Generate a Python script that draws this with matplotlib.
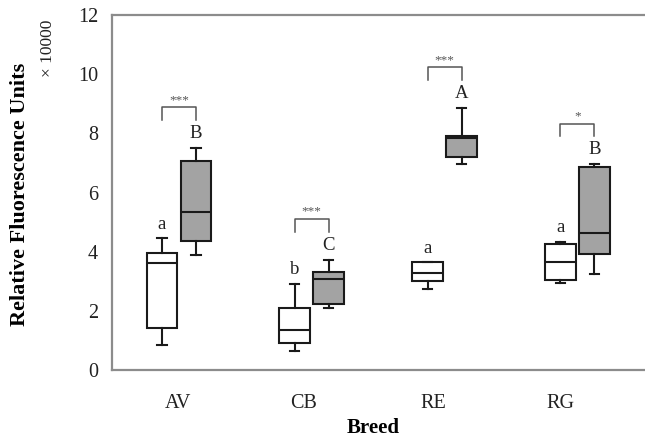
import numpy as np
import matplotlib.pyplot as plt

plt.rcParams['font.family'] = ['Liberation Serif', 'DejaVu Serif']

breeds = ['AV', 'CB', 'RE', 'RG']

# five-number summaries (x 10000 RFU)
white_lo = [0.87, 0.65, 2.74, 2.95]
white_q1 = [1.43, 0.93, 3.01, 3.07]
white_med = [3.63, 1.35, 3.29, 3.66]
white_q3 = [3.96, 2.11, 3.65, 4.26]
white_hi = [4.46, 2.93, 3.65, 4.35]

gray_lo = [3.90, 2.11, 6.98, 3.24]
gray_q1 = [4.38, 2.23, 7.21, 3.94]
gray_med = [5.35, 3.10, 7.86, 4.65]
gray_q3 = [7.06, 3.34, 7.93, 6.88]
gray_hi = [7.51, 3.74, 8.86, 6.96]

white_letters = ['a', 'b', 'a', 'a']
gray_letters = ['B', 'C', 'A', 'B']
signif = ['***', '***', '***', '*']


def make_stats(lo, q1, med, q3, hi):
    stats = []
    for i in range(len(lo)):
        stats.append(dict(whislo=lo[i], q1=q1[i], med=med[i], q3=q3[i],
                          whishi=hi[i], fliers=[]))
    return stats


fig = plt.figure(figsize=(6.45, 4.41), dpi=100)
ax = fig.add_axes([0.1736, 0.16, 0.8264, 0.806])

pos = np.arange(1, len(breeds) + 1)
off = 0.128
w = 0.231

common = dict(widths=w, patch_artist=True, showfliers=False, capwidths=0.07,
              whiskerprops=dict(color='#1a1a1a', lw=1.5),
              capprops=dict(color='#1a1a1a', lw=1.5),
              medianprops=dict(color='#1a1a1a', lw=1.5))

ax.bxp(make_stats(white_lo, white_q1, white_med, white_q3, white_hi),
       positions=pos - off,
       boxprops=dict(facecolor='white', edgecolor='#1a1a1a', lw=1.5),
       **common)
ax.bxp(make_stats(gray_lo, gray_q1, gray_med, gray_q3, gray_hi),
       positions=pos + off,
       boxprops=dict(facecolor='#a3a3a3', edgecolor='#1a1a1a', lw=1.5),
       **common)

for i in range(len(breeds)):
    xw = pos[i] - off
    xg = pos[i] + off
    ax.text(xw, white_hi[i] + 0.47, white_letters[i], ha='center', va='center',
            fontsize=13.5, color='#222222')
    ax.text(xg, gray_hi[i] + 0.49, gray_letters[i], ha='center', va='center',
            fontsize=13.5, color='#222222')
    top = gray_hi[i] + 1.37
    ax.plot([xw, xw, xg, xg], [top - 0.43, top, top, top - 0.43],
            color='#555555', lw=1.1)
    ax.text((xw + xg) / 2, top + 0.05, signif[i], ha='center', va='bottom',
            fontsize=9.5, color='#555555')

ax.set_xlim(0.495, 4.51)
ax.set_ylim(0, 12)
ax.set_yticks([0, 2, 4, 6, 8, 10, 12])
ax.set_xticks([0.992, 1.935, 2.915, 3.872])
ax.set_xticklabels(breeds)
ax.tick_params(axis='both', length=0, labelsize=14.5, colors='#222222')
ax.tick_params(axis='x', pad=17)
ax.tick_params(axis='y', pad=10)

for s in ['left', 'bottom', 'top']:
    ax.spines[s].set_color('#8c8c8c')
    ax.spines[s].set_linewidth(1.6)
ax.spines['right'].set_visible(False)

fig.text(0.578, 0.03, 'Breed', ha='center', va='center',
         fontsize=15, fontweight='bold')
fig.text(0.031, 0.56, 'Relative Fluorescence Units', rotation=90,
         ha='center', va='center', fontsize=16, fontweight='bold')
fig.text(0.074, 0.89, '\u00d7 10000', rotation=90, ha='center', va='center',
         fontsize=12.5, color='#222222')

fig.savefig('out.png', dpi=100)
